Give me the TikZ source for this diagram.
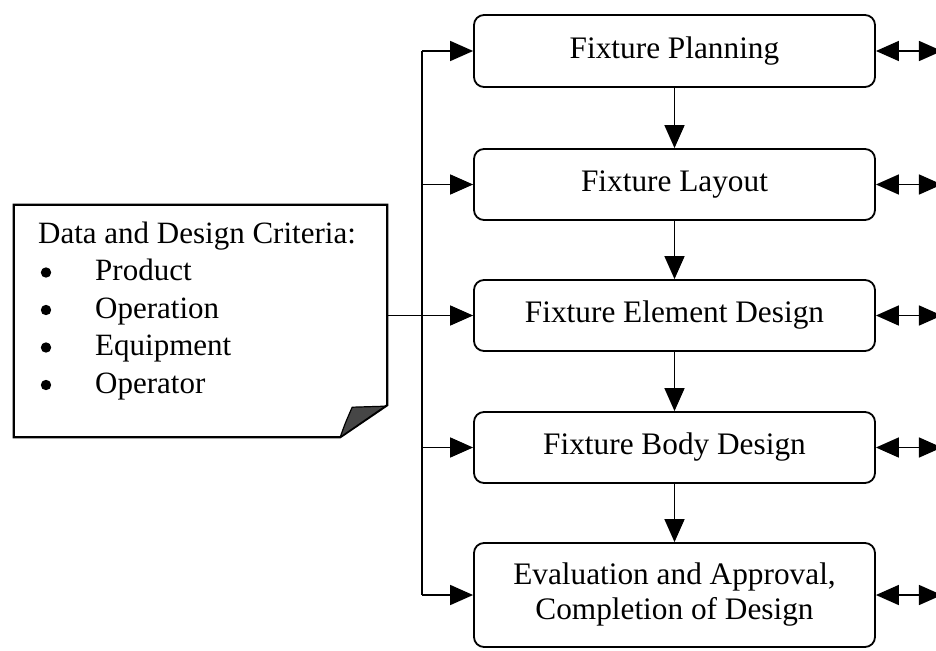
\documentclass[tikz,border=0pt]{standalone}
\usepackage{fontspec}
\setmainfont{Liberation Serif}
\usetikzlibrary{arrows.meta,calc}
\begin{document}
\begin{tikzpicture}[x=1pt,y=-1pt,
  >={Triangle[length=23pt,width=20pt]},
  stage/.style={draw, line width=1.8pt, rounded corners=10pt, minimum width=401pt,
    align=center, font=\fontsize{31.3}{35}\selectfont, inner sep=0pt},
  wire/.style={line width=1.6pt},
  flow/.style={wire, ->},
  link/.style={wire, <->},
]
\useasboundingbox (0,0) rectangle (936,650);
\clip (0,0) rectangle (936,650);

% process stages
\node[stage, minimum height=72pt]  (plan)    at (674.5,51)    {Fixture Planning};
\node[stage, minimum height=71pt]  (layout)  at (674.5,184.5) {Fixture Layout};
\node[stage, minimum height=71pt]  (element) at (674.5,315.5) {Fixture Element Design};
\node[stage, minimum height=71pt]  (body)    at (674.5,447.5) {Fixture Body Design};
\node[stage, minimum height=104pt] (eval)    at (674.5,595)   {Evaluation and Approval,\\Completion of Design};

% data sheet with folded corner
\node[minimum width=373pt, minimum height=232pt, inner sep=0pt] (data) at (200.5,321) {};
\draw[line width=2.2pt, line join=miter]
  (data.north west) -- (data.north east) -- ($(data.south east)+(0,-32)$)
  -- ($(data.south east)+(-47,0)$) -- (data.south west) -- cycle;
\fill[gray!55!black, draw=black, line width=1.2pt, line join=round]
  ($(data.south east)+(-47,0)$) .. controls ($(data.south east)+(-42,-14)$) .. ($(data.south east)+(-35,-30)$)
  -- ($(data.south east)+(-2,-31)$) -- cycle;
\node[anchor=base west, inner sep=0pt, font=\fontsize{31}{37.5}\selectfont] (criteria) at (38,243)
  {\begin{tabular}[t]{@{}l@{}l}
    \multicolumn{2}{@{}l}{Data and Design Criteria:}\\
    \hspace*{57pt} & Product\\
    \hspace*{57pt} & Operation\\
    \hspace*{57pt} & Equipment\\
    \hspace*{57pt} & Operator
  \end{tabular}};
% list bullets
\foreach \k in {1,...,4}
  \fill ($(criteria.base west)+(8,37.5*\k-8)$) circle (5.2pt);

% distribution bus
\coordinate (bus) at (422,0);
\draw[wire] (data.east |- element.west) -- (bus |- element.west);
\draw[wire] (bus |- plan.west) -- (bus |- eval.west);
\foreach \s in {plan,layout,element,body,eval}
  \draw[flow] (bus |- \s.west) -- (\s.west);

% sequence between stages
\draw[flow] (plan.south)    -- (layout.north);
\draw[flow] (layout.south)  -- (element.north);
\draw[flow] (element.south) -- (body.north);
\draw[flow] (body.south)    -- (eval.north);

% two-way links on the right
\foreach \s in {plan,layout,element,body,eval}{
  \coordinate (\s-out) at ($(\s.east)+(66,0)$);
  \draw[link] (\s.east) -- (\s-out);
}
\end{tikzpicture}
\end{document}
